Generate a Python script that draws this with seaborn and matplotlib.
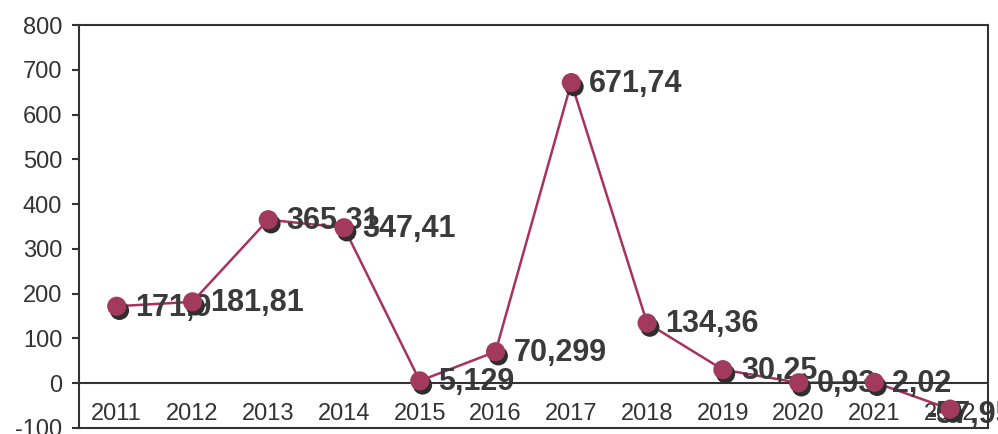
import numpy as np
import pandas as pd
import matplotlib
matplotlib.use('Agg')
import matplotlib.pyplot as plt
import matplotlib.transforms as mtransforms
import seaborn as sns

years = ['2011', '2012', '2013', '2014', '2015', '2016',
         '2017', '2018', '2019', '2020', '2021', '2022']
values = [171.9, 181.81, 365.31, 347.41, 5.129, 70.299,
          671.74, 134.36, 30.25, 0.93, 2.02, -57.95]
point_labels = ['171,9', '181,81', '365,31', '347,41', '5,129', '70,299',
                '671,74', '134,36', '30,25', '0,93', '2,02', '-57,95']
y_ticks = [-100, 0, 100, 200, 300, 400, 500, 600, 700, 800]

sns.set_style('white')
plt.rcParams['font.family'] = ['Liberation Sans', 'DejaVu Sans']

df = pd.DataFrame({'year': years, 'value': values})

fig = plt.figure(figsize=(9.98, 4.34), dpi=100)
ax = fig.add_axes([0.079, 0.014, 0.911, 0.928])

line_color = '#a8325f'
marker_color = '#a23a5e'

# dark drop shadow under the markers
shadow = mtransforms.offset_copy(ax.transData, fig=fig, x=2, y=-3, units='points')
sns.scatterplot(data=df, x='year', y='value', ax=ax, s=190, color='#2e2e2e',
                edgecolor='none', transform=shadow, zorder=3, legend=False)
sns.lineplot(data=df, x='year', y='value', ax=ax, color=line_color,
             linewidth=1.8, zorder=2, sort=False)
sns.scatterplot(data=df, x='year', y='value', ax=ax, s=190, color=marker_color,
                edgecolor='none', zorder=4, legend=False)

for i, (v, lab) in enumerate(zip(values, point_labels)):
    # last label is pushed left so it sits on the marker, like the original
    offset = (-17, -4) if i == len(values) - 1 else (13, -1)
    ax.annotate(lab, (i, v), xytext=offset, textcoords='offset points',
                ha='left', va='center', fontsize=22, fontweight='bold',
                color='#3a3a3a', zorder=2.5, annotation_clip=False)

ax.set_xlim(-0.5, len(years) - 0.5)
ax.set_ylim(-100, 800)
ax.set_yticks(y_ticks)
ax.set_yticklabels([str(t) for t in y_ticks])
ax.set_xlabel('')
ax.set_ylabel('')

# category axis crosses at zero
ax.spines['bottom'].set_position(('data', 0))
ax.set_xticks(range(len(years)))
ax.set_xticklabels(years)
ax.set_xticks(np.arange(0.5, len(years) - 1), minor=True)
ax.tick_params(axis='x', which='major', length=0, pad=14, labelsize=17, labelcolor='#333333')
ax.tick_params(axis='x', which='minor', length=5, width=1.5, direction='out', color='#333333')
ax.tick_params(axis='y', length=5, width=1.5, direction='out', pad=7,
               labelsize=17, labelcolor='#333333', color='#333333', left=True)
ax.axhline(-100, color='#333333', linewidth=1.5, clip_on=False, zorder=1)

for side in ['left', 'right', 'top', 'bottom']:
    ax.spines[side].set_visible(True)
    ax.spines[side].set_color('#333333')
    ax.spines[side].set_linewidth(1.5)

fig.savefig('out.png', dpi=100)
